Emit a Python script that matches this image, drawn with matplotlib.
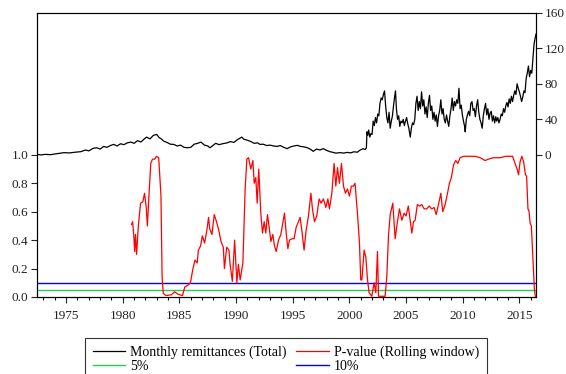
import matplotlib
matplotlib.use("Agg")
import matplotlib.pyplot as plt
from matplotlib.ticker import MultipleLocator, FixedLocator

plt.rcParams['font.family'] = ['Liberation Serif', 'DejaVu Serif']

# ---- Data ----
remit_years = [
    1972.4, 1972.8, 1973.2, 1973.6, 1974.0, 1974.4, 1974.8, 1975.3, 1975.8, 1976.3,
    1976.7, 1977.0, 1977.4, 1977.7, 1978.0, 1978.3, 1978.6, 1978.9, 1979.2, 1979.5,
    1979.8, 1980.1, 1980.4, 1980.7, 1981.0, 1981.3, 1981.6, 1981.9, 1982.1, 1982.4,
    1982.7, 1983.0, 1983.2, 1983.4, 1983.6, 1983.9, 1984.2, 1984.5, 1984.8, 1985.1,
    1985.4, 1985.7, 1986.0, 1986.3, 1986.6, 1986.9, 1987.2, 1987.5, 1987.7, 1988.0,
    1988.2, 1988.5, 1988.8, 1989.2, 1989.5, 1989.8, 1990.1, 1990.3, 1990.5, 1990.7,
    1991.0, 1991.3, 1991.6, 1991.9, 1992.1, 1992.4, 1992.7, 1993.0, 1993.3, 1993.6,
    1993.9, 1994.2, 1994.5, 1994.8, 1995.1, 1995.4, 1995.7, 1996.0, 1996.3, 1996.6,
    1996.8, 1997.1, 1997.4, 1997.7, 1998.0, 1998.3, 1998.5, 1998.8, 1999.2, 1999.5,
    1999.8, 2000.1, 2000.4, 2000.7, 2000.9, 2001.2, 2001.4, 2001.5,
    2001.55, 2001.62, 2001.7, 2001.8, 2001.9, 2002.0, 2002.1, 2002.2, 2002.3, 2002.4,
    2002.5, 2002.6, 2002.7, 2002.8, 2002.9, 2003.0, 2003.1, 2003.2, 2003.3, 2003.4,
    2003.5, 2003.6, 2003.7, 2003.8, 2003.9, 2004.0, 2004.07, 2004.15, 2004.25, 2004.35,
    2004.45, 2004.55, 2004.65, 2004.75, 2004.85, 2004.95, 2005.05, 2005.15, 2005.25, 2005.37,
    2005.47, 2005.57, 2005.67, 2005.77, 2005.87, 2005.97, 2006.07, 2006.17, 2006.27, 2006.37,
    2006.47, 2006.57, 2006.67, 2006.77, 2006.87, 2006.97, 2007.07, 2007.17, 2007.27, 2007.37,
    2007.47, 2007.57, 2007.67, 2007.77, 2007.87, 2007.97, 2008.07, 2008.17, 2008.27, 2008.37,
    2008.47, 2008.57, 2008.67, 2008.77, 2008.87, 2008.97, 2009.07, 2009.17, 2009.27, 2009.37,
    2009.47, 2009.57, 2009.67, 2009.77, 2009.87, 2009.97, 2010.07, 2010.17, 2010.22, 2010.32,
    2010.42, 2010.52, 2010.62, 2010.72, 2010.82, 2010.92, 2011.02, 2011.12, 2011.22, 2011.32,
    2011.42, 2011.52, 2011.62, 2011.72, 2011.82, 2011.92, 2012.02, 2012.12, 2012.22, 2012.32,
    2012.42, 2012.52, 2012.62, 2012.72, 2012.82, 2012.92, 2013.0, 2013.1, 2013.2, 2013.3,
    2013.4, 2013.5, 2013.6, 2013.7, 2013.8, 2013.9, 2014.0, 2014.1, 2014.2, 2014.3,
    2014.4, 2014.5, 2014.6, 2014.7, 2014.8, 2014.9, 2015.0, 2015.1, 2015.2, 2015.3,
    2015.4, 2015.5, 2015.6, 2015.7, 2015.8, 2015.9, 2016.0, 2016.1, 2016.2, 2016.3,
    2016.4, 2016.47,
]
remit_values = [
    0.5, 0.0, 0.6, 0.2, 1.0, 1.8, 2.5, 2.2, 3.0, 3.6,
    5.5, 4.5, 7.5, 8.0, 6.5, 9.5, 8.5, 10.5, 11.8, 10.0,
    12.5, 11.5, 13.5, 14.4, 13.0, 16.0, 14.5, 18.0, 20.0, 18.0,
    22.0, 23.0, 19.5, 18.0, 15.5, 14.0, 12.0, 11.8, 10.0, 11.0,
    8.5, 8.0, 8.5, 12.0, 13.0, 14.4, 11.0, 10.0, 8.0, 11.0,
    13.0, 11.5, 12.5, 13.5, 15.0, 14.0, 17.0, 18.5, 20.0, 17.5,
    16.5, 15.0, 13.0, 13.5, 11.8, 12.0, 10.5, 11.0, 10.0, 9.5,
    10.5, 8.5, 7.0, 9.0, 10.0, 10.7, 9.5, 9.0, 8.0, 6.0,
    4.0, 6.5, 5.5, 7.0, 5.0, 3.5, 3.0, 2.0, 2.5, 2.0,
    2.8, 2.2, 3.5, 3.0, 5.0, 7.0, 6.0, 8.0,
    26, 22, 28, 20, 24, 23, 38, 33, 42, 36,
    46, 44, 58, 64, 62, 68, 72, 55, 42, 36,
    48, 30, 38, 44, 56, 66, 72, 52, 40, 44,
    32, 38, 36, 40, 33, 38, 42, 35, 30, 20,
    30, 36, 34, 40, 58, 66, 50, 60, 52, 71,
    55, 62, 46, 54, 42, 58, 67, 50, 55, 40,
    48, 38, 45, 32, 44, 50, 62, 46, 52, 40,
    36, 45, 38, 32, 44, 52, 64, 50, 60, 55,
    62, 58, 75, 52, 56, 45, 38, 32, 26, 40,
    45, 49, 44, 58, 60, 50, 52, 43, 55, 62,
    48, 40, 36, 30, 44, 52, 58, 45, 52, 40,
    47, 49, 38, 44, 36, 43, 38, 42, 36, 40,
    46, 44, 52, 48, 55, 59, 54, 63, 58, 66,
    60, 67, 72, 68, 80, 75, 71, 66, 60, 65,
    72, 70, 86, 92, 100, 88, 95, 92, 108, 125,
    132, 136,
]

pval_years = [
    1980.77, 1980.87, 1980.97, 1981.05, 1981.12, 1981.22, 1981.37, 1981.57, 1981.77, 1981.92,
    1982.07, 1982.17, 1982.32, 1982.47, 1982.62, 1982.82, 1982.97, 1983.17, 1983.37, 1983.47,
    1983.57, 1983.82, 1984.27, 1984.57, 1984.87, 1985.27, 1985.47, 1985.77, 1985.97, 1986.17,
    1986.37, 1986.57, 1986.67, 1986.87, 1987.02, 1987.22, 1987.42, 1987.57, 1987.67, 1987.87,
    1988.07, 1988.27, 1988.47, 1988.67, 1988.87, 1988.97, 1989.17, 1989.37, 1989.47, 1989.67,
    1989.87, 1990.07, 1990.2, 1990.36, 1990.6, 1990.8, 1990.95, 1991.1, 1991.3, 1991.48,
    1991.6, 1991.74, 1991.86, 1992.0, 1992.18, 1992.33, 1992.48, 1992.62, 1992.77, 1992.92,
    1993.07, 1993.24, 1993.39, 1993.54, 1993.74, 1993.95, 1994.1, 1994.27, 1994.42, 1994.57,
    1994.71, 1994.92, 1995.12, 1995.3, 1995.5, 1995.65, 1995.8, 1996.0, 1996.18, 1996.39,
    1996.6, 1996.74, 1996.92, 1997.12, 1997.33, 1997.5, 1997.71, 1997.92, 1998.1, 1998.24,
    1998.45, 1998.65, 1998.8, 1998.95, 1999.12, 1999.3, 1999.48, 1999.65, 1999.83, 2000.0,
    2000.18, 2000.36, 2000.5, 2000.7, 2000.89, 2001.0, 2001.1, 2001.3, 2001.45, 2001.6,
    2001.74, 2001.98, 2002.18, 2002.33, 2002.48, 2002.57, 2003.15, 2003.3, 2003.45, 2003.6,
    2003.83, 2004.04, 2004.24, 2004.42, 2004.63, 2004.83, 2005.0, 2005.2, 2005.36, 2005.51,
    2005.66, 2005.8, 2006.0, 2006.19, 2006.39, 2006.6, 2006.83, 2007.04, 2007.27, 2007.48,
    2007.66, 2007.86, 2008.07, 2008.24, 2008.45, 2008.66, 2008.83, 2009.0, 2009.19, 2009.39,
    2009.57, 2009.77, 2010.07, 2010.5, 2011.1, 2011.54, 2011.98, 2012.27, 2012.71, 2013.3,
    2013.8, 2014.4, 2014.8, 2014.93, 2015.06, 2015.22, 2015.38, 2015.54, 2015.64, 2015.76,
    2015.86, 2015.95, 2016.06, 2016.18, 2016.33, 2016.42,
]
pval_values = [
    0.51, 0.53, 0.43, 0.32, 0.44, 0.30, 0.50, 0.66, 0.67, 0.73,
    0.63, 0.50, 0.73, 0.94, 0.97, 0.97, 0.99, 0.98, 0.71, 0.14,
    0.026, 0.01, 0.015, 0.037, 0.02, 0.01, 0.07, 0.085, 0.10, 0.19,
    0.26, 0.24, 0.33, 0.36, 0.43, 0.38, 0.47, 0.56, 0.48, 0.44,
    0.58, 0.53, 0.47, 0.39, 0.35, 0.20, 0.35, 0.33, 0.23, 0.11,
    0.40, 0.10, 0.23, 0.12, 0.24, 0.76, 0.97, 0.98, 0.90, 0.96,
    0.80, 0.84, 0.66, 0.90, 0.59, 0.45, 0.53, 0.45, 0.58, 0.49,
    0.39, 0.44, 0.36, 0.32, 0.40, 0.44, 0.51, 0.59, 0.45, 0.34,
    0.40, 0.41, 0.41, 0.49, 0.53, 0.56, 0.47, 0.33, 0.47, 0.57,
    0.73, 0.62, 0.53, 0.57, 0.69, 0.66, 0.69, 0.63, 0.69, 0.62,
    0.73, 0.94, 0.78, 0.91, 0.80, 0.94, 0.78, 0.73, 0.76, 0.71,
    0.78, 0.78, 0.80, 0.60, 0.38, 0.12, 0.12, 0.33, 0.28, 0.12,
    0.03, 0.005, 0.10, 0.03, 0.32, 0.005, 0.005, 0.14, 0.43, 0.58,
    0.66, 0.41, 0.53, 0.62, 0.54, 0.59, 0.57, 0.64, 0.54, 0.45,
    0.53, 0.54, 0.65, 0.64, 0.65, 0.62, 0.62, 0.64, 0.62, 0.63,
    0.58, 0.65, 0.73, 0.60, 0.65, 0.73, 0.80, 0.84, 0.93, 0.96,
    0.94, 0.98, 0.99, 0.99, 0.99, 0.98, 0.96, 0.97, 0.98, 0.98,
    0.99, 0.99, 0.90, 0.86, 0.95, 0.99, 0.95, 0.86, 0.85, 0.62,
    0.60, 0.52, 0.50, 0.30, 0.05, 0.0,
]

level_5pct = 0.05
level_10pct = 0.10

left_ticks = [0.0, 0.2, 0.4, 0.6, 0.8, 1.0]
right_ticks = [0, 40, 80, 120, 160]
year_ticks = [1975, 1980, 1985, 1990, 1995, 2000, 2005, 2010, 2015]

label_remit = "Monthly remittances (Total)"
label_pval = "P-value (Rolling window)"
label_5 = "5%"
label_10 = "10%"

# ---- Figure ----
fig = plt.figure(figsize=(5.66, 3.74), dpi=100)
ax = fig.add_axes([0.0648, 0.2059, 0.8822, 0.7600])
ax2 = ax.twinx()

tick_color = "#222222"
fs = 9.5

h_red, = ax.plot(pval_years, pval_values, color="#ff0000", lw=0.9, zorder=3)
h_green = ax.axhline(level_5pct, color="#22cc55", lw=1.0, zorder=2)
h_blue = ax.axhline(level_10pct, color="#0000ff", lw=1.0, zorder=2)
h_black, = ax2.plot(remit_years, remit_values, color="black", lw=0.9)

ax.set_xlim(1972.4, 2016.47)
ax.set_ylim(0, 2.0)
ax2.set_ylim(-160, 160)

ax.yaxis.set_major_locator(FixedLocator(left_ticks))
ax.set_yticklabels([f"{v:.1f}" for v in left_ticks])
ax2.yaxis.set_major_locator(FixedLocator(right_ticks))
ax2.set_yticklabels([str(v) for v in right_ticks])
ax.xaxis.set_major_locator(FixedLocator(year_ticks))
ax.set_xticklabels([str(y) for y in year_ticks])
ax.xaxis.set_minor_locator(MultipleLocator(1))

ax.tick_params(axis='x', which='major', direction='out', length=4.3, width=0.8,
               labelsize=fs, colors=tick_color, pad=5)
ax.tick_params(axis='x', which='minor', direction='out', length=2.4, width=0.8)
ax.tick_params(axis='y', direction='out', length=4.0, width=0.8, labelsize=fs,
               colors=tick_color, pad=2)
ax2.tick_params(axis='y', direction='out', length=4.0, width=0.8, labelsize=fs,
                colors=tick_color, pad=2)

for a in (ax, ax2):
    for s in a.spines.values():
        s.set_linewidth(0.8)
        s.set_color("black")

# column-major ordering: col 1 = remittances, 5%; col 2 = p-value, 10%
leg = fig.legend([h_black, h_green, h_red, h_blue],
                 [label_remit, label_5, label_pval, label_10], ncol=2,
                 loc="upper left", bbox_to_anchor=(0.150, 0.0963 - 0.12, 0.710, 0.12),
                 mode="expand", borderaxespad=0, fancybox=False, frameon=True,
                 edgecolor="black", fontsize=10, handlelength=2.35, handletextpad=0.35,
                 labelspacing=0.05, borderpad=0.55, columnspacing=1.0)
leg.get_frame().set_linewidth(0.8)

fig.savefig("out.png", dpi=100)
